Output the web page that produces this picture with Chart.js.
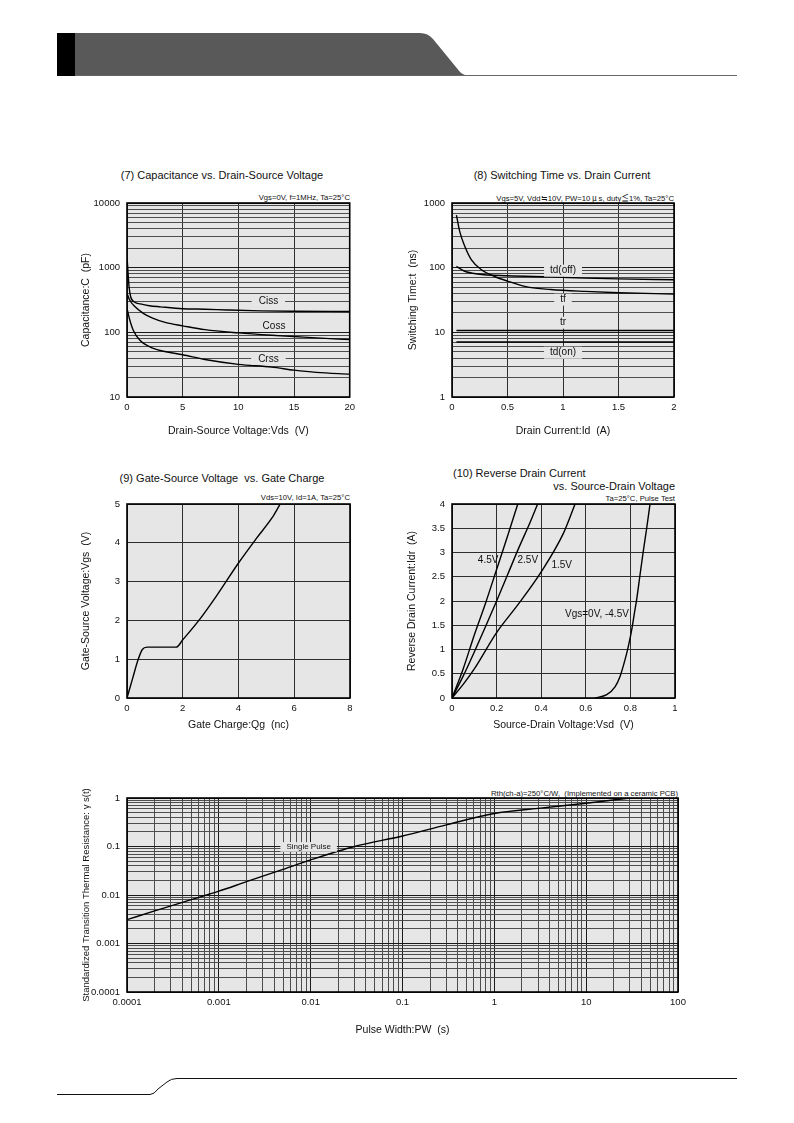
<!DOCTYPE html>
<html lang="en">
<head>
<meta charset="UTF-8">
<title>Characteristic curves (7) - (11)</title>
<script src="https://cdn.jsdelivr.net/npm/chart.js"></script>
<style>
    body { margin: 0; background: #fff; font-family: "Liberation Sans", Arial, sans-serif; color: #111; }
    #page { position: relative; width: 794px; height: 1123px; overflow: hidden; }
    canvas { position: absolute; }
    .ttl { position: absolute; font-size: 11px; white-space: nowrap; transform: translate(-50%, -50%); }
    .ttl-l { position: absolute; font-size: 11px; white-space: nowrap; transform: translateY(-50%); }
    .ttl-r { position: absolute; font-size: 11px; white-space: nowrap; transform: translate(-100%, -50%); }
    .cond { position: absolute; font-size: 7.7px; white-space: nowrap; transform: translate(-100%, -50%); }
    .jp { font-family: "Noto Sans CJK JP", "Liberation Sans", sans-serif; }
    svg.deco { position: absolute; left: 0; top: 0; }
</style>
</head>
<body>
<div id="page">
    <!-- header / footer decoration -->
    <svg class="deco" width="794" height="1123">
        <rect x="57" y="33" width="18" height="43" fill="#000"/>
        <path d="M75 33 L420 33 Q428 33 433 39 L460 72 Q464 76 472 76 L75 76 Z" fill="#595959"/>
        <line x1="75" y1="75.5" x2="737" y2="75.5" stroke="#666" stroke-width="1"/>
        <path d="M57 1094.5 L150 1094.5 Q154 1094.5 158 1089 L167 1082 Q171 1078.5 177 1078.5 L737 1078.5" fill="none" stroke="#111" stroke-width="1"/>
    </svg>

    <div class="ttl" style="left:222px; top:175px;">(7) Capacitance vs. Drain-Source Voltage</div>
    <div class="cond" style="left:350px; top:197px;">Vgs=0V, f=1MHz, Ta=25°C</div>
    <canvas id="c7" width="290" height="255" style="left:70px; top:190px;"></canvas>

    <div class="ttl" style="left:562px; top:175px;">(8) Switching Time vs. Drain Current</div>
    <div class="cond" style="left:674px; top:197px;">Vgs=5V, Vdd<span class="jp">≒</span>10V, PW=10<span class="jp"> μ </span>s, duty<span class="jp">≦</span>1%, Ta=25°C</div>
    <canvas id="c8" width="290" height="255" style="left:395px; top:190px;"></canvas>

    <div class="ttl" style="left:222px; top:478px;">(9) Gate-Source Voltage&nbsp; vs. Gate Charge</div>
    <div class="cond" style="left:350px; top:497px;">Vds=10V, Id=1A, Ta=25°C</div>
    <canvas id="c9" width="290" height="255" style="left:70px; top:490px;"></canvas>

    <div class="ttl-l" style="left:453px; top:473px;">(10) Reverse Drain Current</div>
    <div class="ttl-r" style="left:675px; top:486px;">vs. Source-Drain Voltage</div>
    <div class="cond" style="left:675px; top:498px;">Ta=25°C, Pulse Test</div>
    <canvas id="c10" width="292" height="255" style="left:395px; top:490px;"></canvas>

    <div class="cond" style="left:678px; top:793px;">Rth(ch-a)=250°C/W,&nbsp; (Implemented on a ceramic PCB)</div>
    <canvas id="c11" width="625" height="270" style="left:70px; top:775px;"></canvas>
</div>

<script>
// ---- (7) capacitance vs Vds ----
const cissVds = [0.02, 0.1, 0.18, 0.33, 0.7, 1.2, 2, 3, 5, 7, 9, 12, 15, 20];
const cissPf  = [1300, 800, 515, 355, 292, 275, 258, 248, 232, 228, 222, 215, 212, 210];
const cossVds = [0, 0.24, 0.7, 1.46, 2.3, 3.5, 5, 7, 10, 13, 15, 17, 20];
const cossPf  = [400, 316, 250, 197, 166, 141, 126, 110, 98, 90, 86, 82, 77];
const crssVds = [0, 0.25, 0.55, 1.14, 2.3, 3.5, 5, 7, 10, 13, 15, 17, 20];
const crssPf  = [236, 155, 109, 76, 57, 50, 45, 38, 32, 29, 26, 24, 22.6];
const capXTicks = ['0', '5', '10', '15', '20'];
const capYTicks = ['10', '100', '1000', '10000'];

// ---- (8) switching time vs Id ----
const tfId    = [0.04, 0.07, 0.115, 0.175, 0.265, 0.385, 0.5, 0.685, 0.89, 1.2, 1.5, 2];
const tfNs    = [650, 360, 214, 132, 93, 73, 62, 50, 46, 43, 41, 39];
const tdoffId = [0.04, 0.115, 0.23, 0.5, 0.89, 1.2, 1.5, 2];
const tdoffNs = [105, 88, 80, 75, 72, 69, 67, 65];
const trId    = [0.04, 2];
const trNs    = [10.7, 10.7];
const tdonId  = [0.04, 2];
const tdonNs  = [7.1, 7.1];
const swXTicks = ['0', '0.5', '1', '1.5', '2'];
const swYTicks = ['1', '10', '100', '1000'];

// ---- (9) Vgs vs gate charge ----
const qgNc = [0, 0.2, 0.4, 0.55, 0.72, 1.2, 1.77, 2.0, 2.6, 3.2, 4.0, 4.65, 5.2, 5.48];
const vgsV = [0, 0.5, 0.99, 1.25, 1.31, 1.31, 1.31, 1.5, 2.02, 2.62, 3.48, 4.12, 4.64, 4.98];
const qgXTicks = ['0', '2', '4', '6', '8'];
const qgYTicks = ['0', '1', '2', '3', '4', '5'];

// ---- (10) reverse drain current vs Vsd ----
const vsd45 = [0, 0.05, 0.1, 0.15, 0.2, 0.25, 0.295];
const idr45 = [0, 0.6, 1.3, 1.95, 2.65, 3.35, 4];
const vsd25 = [0, 0.05, 0.1, 0.15, 0.2, 0.25, 0.3, 0.35, 0.384];
const idr25 = [0, 0.45, 0.95, 1.47, 2.0, 2.55, 3.1, 3.62, 4];
const vsd15 = [0, 0.05, 0.1, 0.2, 0.3, 0.4, 0.5, 0.552];
const idr15 = [0, 0.28, 0.6, 1.35, 1.95, 2.6, 3.4, 4];
const vsd0  = [0.642, 0.694, 0.731, 0.754, 0.776, 0.791, 0.806, 0.818, 0.828, 0.842, 0.857, 0.873, 0.888];
const idr0  = [0, 0.07, 0.23, 0.45, 0.79, 1.07, 1.41, 1.75, 2.03, 2.5, 3.0, 3.5, 4];
const rdXTicks = ['0', '0.2', '0.4', '0.6', '0.8', '1'];
const rdYTicks = ['0', '0.5', '1', '1.5', '2', '2.5', '3', '3.5', '4'];

// ---- (11) transient thermal resistance ----
const pwS    = [0.0001, 0.0002, 0.0005, 0.001, 0.002, 0.005, 0.01, 0.03, 0.1, 0.3, 1, 3, 10, 30];
const gammaS = [0.0031, 0.0047, 0.008, 0.012, 0.0188, 0.0338, 0.053, 0.1, 0.165, 0.28, 0.48, 0.61, 0.78, 1.0];
const pwXTicks = ['0.0001', '0.001', '0.01', '0.1', '1', '10', '100'];
const gammaYTicks = ['0.0001', '0.001', '0.01', '0.1', '1'];

const PLOT_BG = '#e6e6e6';
const GRID_MAJOR = '#1a1a1a';
const GRID_MINOR = '#4d4d4d';
const FONT = '"Liberation Sans", Arial, sans-serif';

Chart.defaults.font.family = FONT;
Chart.defaults.color = '#111';

const pts = (xs, ys) => xs.map((x, i) => ({x: x, y: ys[i]}));

function pickLabel(labels, v) {
    const hit = labels.find(l => Math.abs(Number(l) - v) <= Math.abs(v) * 1e-6 + 1e-12);
    return hit === undefined ? '' : hit;
}

// 1..9 x each decade, for the log grid
function decadeSteps(labels) {
    const nums = labels.map(Number);
    const out = [];
    for (let i = 0; i < nums.length - 1; i++) {
        for (let m = 1; m < 10; m++) out.push(Number((nums[i] * m).toPrecision(4)));
    }
    out.push(nums[nums.length - 1]);
    return out;
}

function isDecade(v) {
    const l = Math.log10(v);
    return Math.abs(l - Math.round(l)) < 1e-6;
}

function axis(kind, labels, titleText, titlePad, size, step) {
    const nums = labels.map(Number);
    const horiz = kind[0] === 'x';
    const a = {
        type: kind.endsWith('log') ? 'logarithmic' : 'linear',
        min: nums[0],
        max: nums[nums.length - 1],
        ticks: {
            autoSkip: false, maxRotation: 0, padding: horiz ? 5 : 7,
            font: {size: 9.5},
            callback: v => pickLabel(labels, v)
        },
        grid: { drawTicks: false, color: GRID_MINOR, lineWidth: 1 },
        border: { display: false },
        title: {
            display: true, text: titleText, font: {size: 10.5},
            padding: horiz ? {top: 0, bottom: titlePad} : {top: titlePad, bottom: 0}
        },
        afterFit: s => { if (horiz) s.height = size; else s.width = size; }
    };
    if (a.type === 'logarithmic') {
        a.afterBuildTicks = s => { s.ticks = decadeSteps(labels).map(v => ({value: v})); };
        a.grid.color = c => (c.tick && isDecade(c.tick.value)) ? GRID_MAJOR : GRID_MINOR;
    } else {
        a.ticks.stepSize = step;
        a.grid.color = '#2e2e2e';
    }
    return a;
}

const plotFrame = {
    id: 'plotFrame',
    beforeDraw(chart) {
        const {ctx, chartArea: a} = chart;
        ctx.save();
        ctx.fillStyle = PLOT_BG;
        ctx.fillRect(a.left, a.top, a.right - a.left, a.bottom - a.top);
        ctx.restore();
    },
    afterDraw(chart) {
        const {ctx, chartArea: a} = chart;
        ctx.save();
        ctx.strokeStyle = '#000';
        ctx.lineWidth = 1.6;
        ctx.strokeRect(a.left, a.top, a.right - a.left, a.bottom - a.top);
        ctx.restore();
    }
};

// curve names written inside the plot, optionally on a patch that hides the grid
const curveLabels = {
    id: 'curveLabels',
    afterDatasetsDraw(chart, args, opts) {
        const {ctx, scales} = chart;
        if (!opts.items) return;
        ctx.save();
        ctx.font = opts.size + 'px ' + FONT;
        ctx.textAlign = 'center';
        ctx.textBaseline = 'middle';
        for (const it of opts.items) {
            const px = scales.x.getPixelForValue(it.x);
            const py = scales.y.getPixelForValue(it.y);
            if (it.box) {
                const w = ctx.measureText(it.text).width + it.box * 2;
                ctx.fillStyle = PLOT_BG;
                ctx.fillRect(px - w / 2, py - opts.size * 0.6, w, opts.size * 1.2);
            }
            ctx.fillStyle = '#111';
            ctx.fillText(it.text, px, py);
        }
        ctx.restore();
    }
};

function line(xs, ys) {
    return {
        data: pts(xs, ys), borderColor: '#000', borderWidth: 1.4,
        pointRadius: 0, fill: false, cubicInterpolationMode: 'monotone'
    };
}

function makeChart(id, datasets, xAxis, yAxis, pad, labels) {
    return new Chart(document.getElementById(id), {
        type: 'line',
        data: { datasets: datasets },
        options: {
            responsive: false,
            animation: false,
            layout: { padding: pad },
            scales: { x: xAxis, y: yAxis },
            plugins: {
                legend: { display: false },
                tooltip: { enabled: false },
                curveLabels: labels
            }
        },
        plugins: [plotFrame, curveLabels]
    });
}

makeChart('c7',
    [line(cissVds, cissPf), line(cossVds, cossPf), line(crssVds, crssPf)],
    axis('x', capXTicks, 'Drain-Source Voltage:Vds  (V)', 8, 48, 5),
    axis('ylog', capYTicks, 'Capacitance:C  (pF)', 10, 57),
    {top: 13, right: 10, left: 0, bottom: 0},
    {size: 10, items: [
        {text: 'Ciss', x: 12.7, y: 299, box: 7},
        {text: 'Coss', x: 13.2, y: 123},
        {text: 'Crss', x: 12.7, y: 38.8, box: 7}
    ]});

makeChart('c8',
    [line(tfId, tfNs), line(tdoffId, tdoffNs), line(trId, trNs), line(tdonId, tdonNs)],
    axis('x', swXTicks, 'Drain Current:Id  (A)', 8, 48, 0.5),
    axis('ylog', swYTicks, 'Switching Time:t  (ns)', 11.7, 57),
    {top: 13, right: 11, left: 0, bottom: 0},
    {size: 10, items: [
        {text: 'td(off)', x: 1.0, y: 89.8, box: 6},
        {text: 'tf', x: 1.0, y: 32, box: 6},
        {text: 'tr', x: 1.0, y: 14.1, box: 2},
        {text: 'td(on)', x: 1.0, y: 4.84, box: 6}
    ]});

makeChart('c9',
    [line(qgNc, vgsV)],
    axis('x', qgXTicks, 'Gate Charge:Qg  (nc)', 13.7, 47, 2),
    axis('y', qgYTicks, 'Gate-Source Voltage:Vgs  (V)', 10, 57, 1),
    {top: 14, right: 10, left: 0, bottom: 0},
    {size: 10, items: []});

makeChart('c10',
    [line(vsd45, idr45), line(vsd25, idr25), line(vsd15, idr15), line(vsd0, idr0)],
    axis('x', rdXTicks, 'Source-Drain Voltage:Vsd  (V)', 13.7, 47, 0.2),
    axis('y', rdYTicks, 'Reverse Drain Current:Idr  (A)', 10.4, 57, 0.5),
    {top: 14, right: 12, left: 0, bottom: 0},
    {size: 10, items: [
        {text: '4.5V', x: 0.162, y: 2.85},
        {text: '2.5V', x: 0.34, y: 2.85},
        {text: '1.5V', x: 0.492, y: 2.73},
        {text: 'Vgs=0V, -4.5V', x: 0.65, y: 1.72}
    ]});

const y11 = axis('ylog', gammaYTicks, 'Standardized Transition Thermal Resistance: γ s(t)', 10.3, 57);
y11.title.font = {size: 9.5};
makeChart('c11',
    [line(pwS, gammaS)],
    axis('xlog', pwXTicks, 'Pulse Width:PW  (s)', 8.7, 53),
    y11,
    {top: 23, right: 17, left: 0, bottom: 0},
    {size: 8, items: [
        {text: 'Single Pulse', x: 0.0095, y: 0.098, box: 6}
    ]});
</script>
</body>
</html>
